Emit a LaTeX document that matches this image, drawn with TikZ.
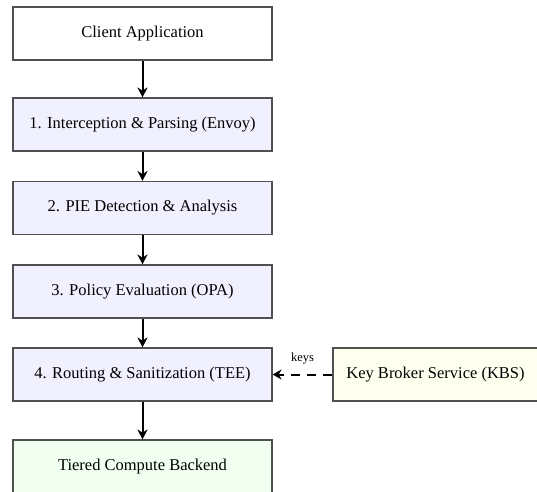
\documentclass[tikz,border=0pt]{standalone}
\usepackage{fontspec}
\setmainfont{Liberation Serif}
\usetikzlibrary{arrows.meta}
\definecolor{stepfill}{HTML}{F0F0FF}
\definecolor{kbsfill}{HTML}{FFFFF0}
\definecolor{backfill}{HTML}{F0FFF0}
\definecolor{edge}{HTML}{505050}
\tikzset{
  box/.style={draw=edge, line width=1.1pt, rectangle, minimum width=259pt,
    minimum height=53pt, inner sep=0pt, font=\fontsize{16.5}{19}\selectfont},
  stage/.style={box, fill=stepfill},
  flow/.style={-{Stealth[length=10pt,width=10pt]}, line width=2pt},
  keyflow/.style={-{Stealth[length=9pt,width=10pt]}, line width=2pt, dash pattern=on 9pt off 7pt},
}
\begin{document}
\begin{tikzpicture}[x=1pt,y=-1pt]
  \useasboundingbox (0,0) rectangle (537,491);
  \clip (0,0) rectangle (537,491);
  \node[box, fill=white] (client) at (142.5,33.5) {Client Application};
  \node[stage] (intercept) at (142.5,124.5) {1. Interception \& Parsing (Envoy)};
  \node[stage] (detect) at (142.5,208) {2. PIE Detection \& Analysis};
  \node[stage] (policy) at (142.5,291.5) {3. Policy Evaluation (OPA)};
  \node[stage] (route) at (142.5,374.5) {4. Routing \& Sanitization (TEE)};
  \node[box, fill=backfill] (backend) at (142.5,466.5) {Tiered Compute Backend};
  \node[box, fill=kbsfill, minimum width=205pt] (kbs) at (435.5,374.5) {Key Broker Service (KBS)};

  \draw[flow] (client) -- (intercept);
  \draw[flow] (intercept) -- (detect);
  \draw[flow] (detect) -- (policy);
  \draw[flow] (policy) -- (route);
  \draw[flow] (route) -- (backend);
  \draw[keyflow] (kbs) -- node[above=6pt, font=\fontsize{12.5}{15}\selectfont] {keys} (route);
\end{tikzpicture}
\end{document}
